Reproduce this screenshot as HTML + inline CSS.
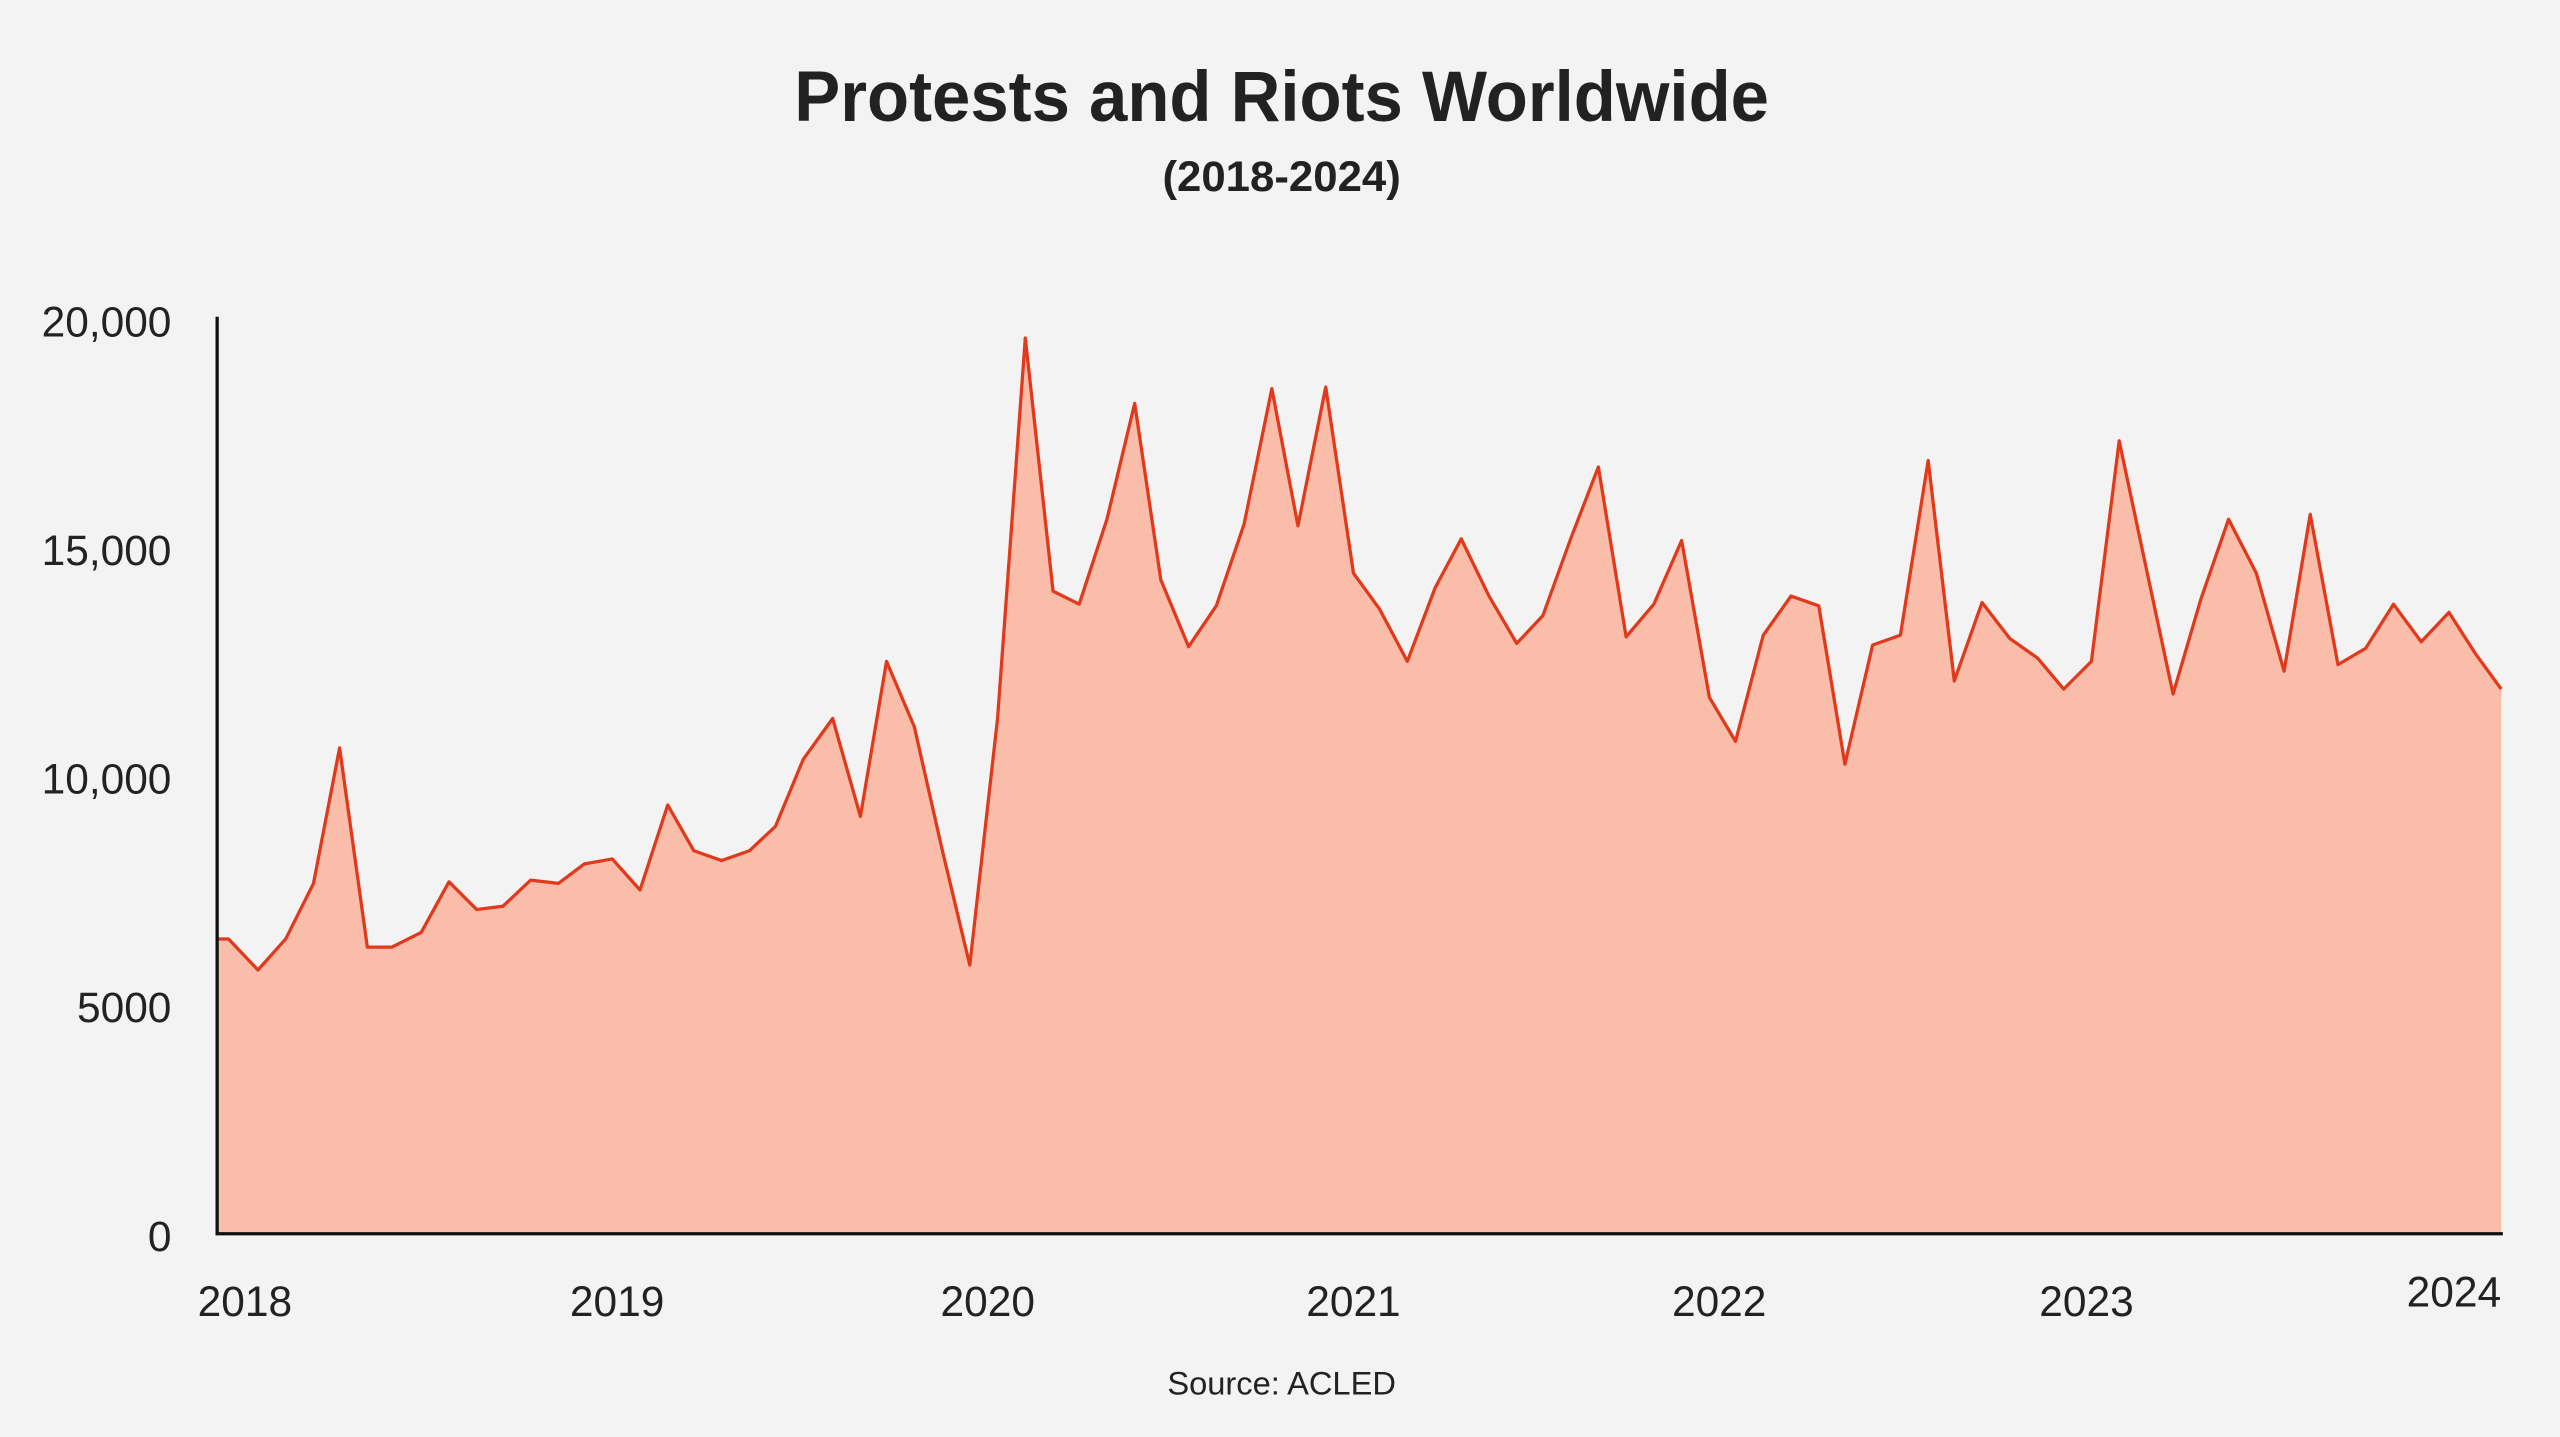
<!DOCTYPE html>
<html><head><meta charset="utf-8"><style>
html,body{margin:0;padding:0;background:#f3f3f3;}
svg{display:block;}
text{font-family:"Liberation Sans",sans-serif;fill:#222;}
</style></head><body>
<svg width="2560" height="1437" viewBox="0 0 1568 880" preserveAspectRatio="none" xmlns="http://www.w3.org/2000/svg">
<rect width="1568" height="880" fill="#f3f3f3"/>
<text x="785" y="74" font-size="44" font-weight="bold" text-anchor="middle" textLength="597" lengthAdjust="spacingAndGlyphs" fill="#333">Protests and Riots Worldwide</text>
<text x="785" y="117" font-size="26" font-weight="bold" text-anchor="middle" textLength="146" lengthAdjust="spacingAndGlyphs" fill="#333">(2018-2024)</text>
<polygon fill="#f9bdaa" points="133,755 133,575 140,575 158,594 175,575 192,541 208,458 225,580 240,580 258,571 275,540 292,557 308,555 325,539 342,541 358,529 375,526 392,545 409,493 425,521 442,527 459,521 475,506 492,465 510,440 527,500 543,405 560,445 577,520 594,591 611,440 628,207 645,362 661,370 678,318 695,247 711,355 728,396 745,371 762,321 779,238 795,322 812,237 829,351 845,373 862,405 879,360 895,330 912,365 929,394 945,377 962,330 979,286 996,390 1013,370 1030,331 1047,427 1063,454 1080,389 1097,365 1114,371 1130,468 1147,395 1164,389 1181,282 1197,417 1214,369 1231,391 1248,403 1264,422 1281,405 1298,270 1315,350 1331,425 1348,367 1365,318 1382,351 1399,411 1415,315 1432,407 1449,397 1466,370 1483,393 1500,375 1516,400 1532,422 1532,755"/>
<polyline fill="none" stroke="#e0391c" stroke-width="2" stroke-linejoin="round" points="133,575 140,575 158,594 175,575 192,541 208,458 225,580 240,580 258,571 275,540 292,557 308,555 325,539 342,541 358,529 375,526 392,545 409,493 425,521 442,527 459,521 475,506 492,465 510,440 527,500 543,405 560,445 577,520 594,591 611,440 628,207 645,362 661,370 678,318 695,247 711,355 728,396 745,371 762,321 779,238 795,322 812,237 829,351 845,373 862,405 879,360 895,330 912,365 929,394 945,377 962,330 979,286 996,390 1013,370 1030,331 1047,427 1063,454 1080,389 1097,365 1114,371 1130,468 1147,395 1164,389 1181,282 1197,417 1214,369 1231,391 1248,403 1264,422 1281,405 1298,270 1315,350 1331,425 1348,367 1365,318 1382,351 1399,411 1415,315 1432,407 1449,397 1466,370 1483,393 1500,375 1516,400 1532,422"/>
<line x1="133" y1="194" x2="133" y2="756" stroke="#111" stroke-width="2"/>
<line x1="132" y1="755.5" x2="1533" y2="755.5" stroke="#111" stroke-width="2"/>
<g font-size="26" text-anchor="end">
<text x="105" y="206">20,000</text>
<text x="105" y="346">15,000</text>
<text x="105" y="486">10,000</text>
<text x="105" y="626">5000</text>
<text x="105" y="766">0</text>
</g>
<g font-size="26" text-anchor="middle">
<text x="150" y="806">2018</text>
<text x="378" y="806">2019</text>
<text x="605" y="806">2020</text>
<text x="829" y="806">2021</text>
<text x="1053" y="806">2022</text>
<text x="1278" y="806">2023</text>
<text x="1503" y="800">2024</text>
</g>
<text x="785" y="854" font-size="20" text-anchor="middle">Source: ACLED</text>
</svg>
</body></html>
